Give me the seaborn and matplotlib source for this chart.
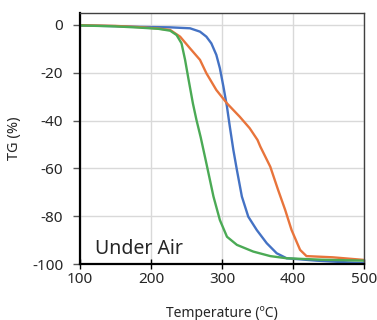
import pandas as pd
import numpy as np
import seaborn as sns
import matplotlib.pyplot as plt

# TG curves (temperature in ºC, mass change in %)
t_blue = [100, 150, 183, 227, 255, 269, 278, 285, 292, 297, 302, 307, 311, 316, 321, 328,
          337, 349, 363, 377, 391, 433, 500]
tg_blue = [-0.2, -0.5, -0.8, -1.0, -1.4, -2.8, -4.9, -7.7, -12.5, -18.1, -25.8, -34.2, -42.5,
           -52.3, -60.7, -71.8, -80.2, -85.8, -91.3, -95.5, -97.6, -98.6, -99.7]

t_orange = [100, 150, 183, 210, 227, 241, 255, 269, 278, 292, 307, 325, 339, 350, 354,
            368, 379, 389, 398, 410, 419, 456, 500]
tg_orange = [-0.1, -0.4, -0.9, -1.5, -2.1, -4.9, -9.8, -14.6, -20.2, -27.2, -32.8, -38.4,
             -43.2, -48.1, -50.9, -59.3, -69.0, -77.4, -85.8, -94.1, -96.7, -97.2, -98.3]

t_green = [100, 150, 183, 210, 227, 236, 243, 248, 253, 259, 264, 270, 278, 288, 297, 307,
           321, 344, 368, 391, 440, 500]
tg_green = [-0.2, -0.6, -1.1, -1.6, -2.4, -4.2, -7.7, -14.6, -23.0, -32.8, -39.7, -47.0,
            -57.9, -71.8, -81.6, -88.6, -92.0, -94.8, -96.7, -97.6, -98.2, -98.6]

series = {'blue': (t_blue, tg_blue),
          'orange': (t_orange, tg_orange),
          'green': (t_green, tg_green)}

frames = []
for name, (t, tg) in series.items():
    frames.append(pd.DataFrame({'T': t, 'TG': tg, 'serie': name}))
data = pd.concat(frames, ignore_index=True)

colores = {'blue': '#4472C4', 'orange': '#E8743B', 'green': '#4BAA55'}

sns.set_style("whitegrid")
plt.rcParams['font.family'] = ['Noto Sans', 'DejaVu Sans']
plt.rcParams['axes.unicode_minus'] = False

fig = plt.figure(figsize=(3.77, 3.2), dpi=100)
ax = fig.add_axes([80/377, 56/320, 284/377, 251/320])

sns.lineplot(data=data, x='T', y='TG', hue='serie', palette=colores,
             linewidth=1.7, legend=False, ax=ax, sort=False)
for ln in ax.lines:
    ln.set_solid_joinstyle('round')
    ln.set_solid_capstyle('round')

ax.set_xlim(100, 500)
ax.set_ylim(-100, 5)
ax.set_xticks([100, 200, 300, 400, 500])
ax.set_yticks([0, -20, -40, -60, -80, -100])
ax.grid(True, color='#D9D9D9', linewidth=1.0)

for s in ['left', 'bottom']:
    ax.spines[s].set_color('black')
    ax.spines[s].set_linewidth(1.6)
for s in ['top', 'right']:
    ax.spines[s].set_color('#404040')
    ax.spines[s].set_linewidth(1.0)

ax.tick_params(axis='y', which='major', direction='out', length=5, width=1,
               color='#595959', labelsize=11, pad=7, left=True)
ax.tick_params(axis='x', which='major', direction='inout', length=7, width=1,
               color='black', labelsize=11, pad=2, bottom=True)

ax.set_ylabel('TG (%)', fontsize=10.5, labelpad=7)
ax.set_xlabel('Temperature (ºC)', fontsize=10, labelpad=14)

ax.text(121, -95.8, 'Under Air', fontsize=14, ha='left', va='baseline')

fig.savefig('out.png', dpi=100)
